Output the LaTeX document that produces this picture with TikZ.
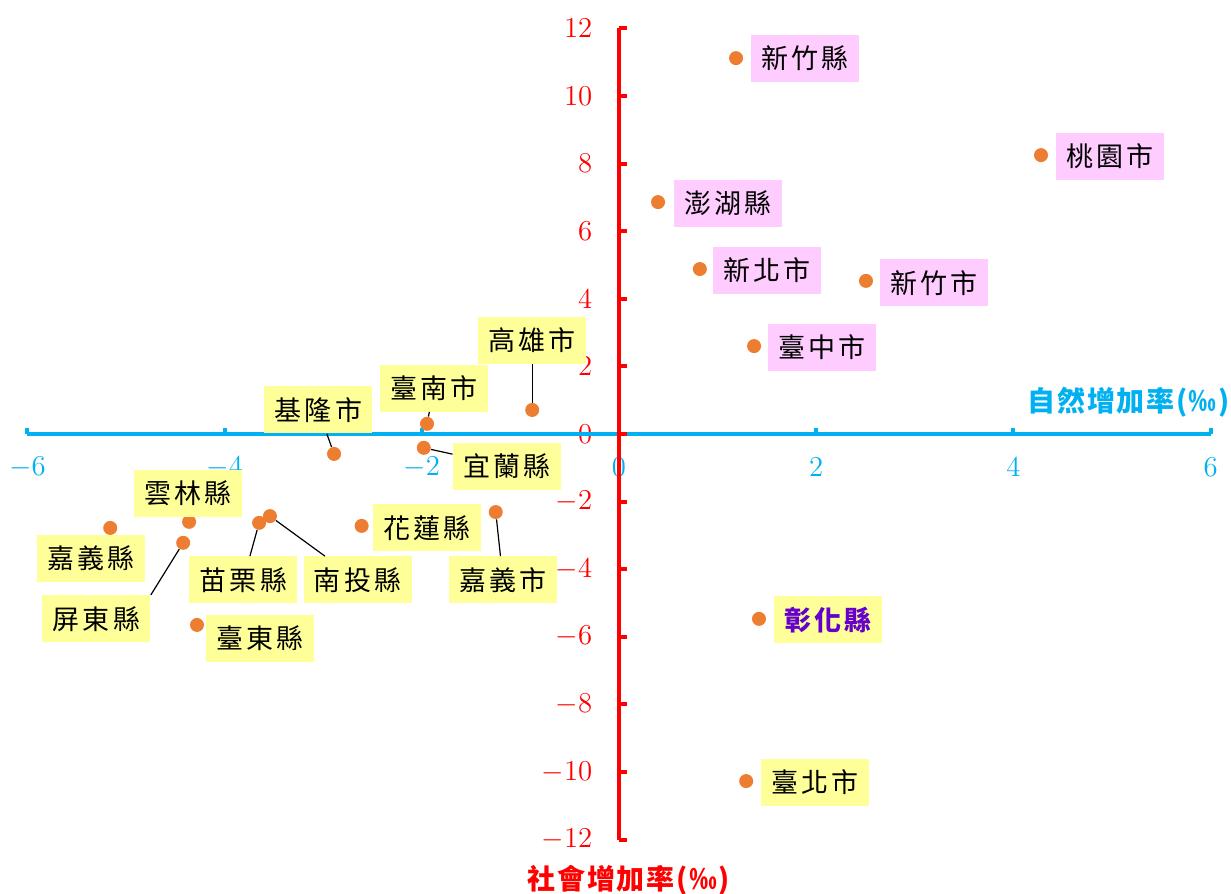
\documentclass[tikz,border=0pt]{standalone}
\usepackage{fontspec}
\usepackage{tikz}
\newfontfamily\cjk[LetterSpace=12]{Noto Sans CJK TC}
\newfontfamily\cjktitle[LetterSpace=6]{Noto Sans CJK TC}
\tikzset{>=latex}
\definecolor{excelorange}{HTML}{ED7D31}
\definecolor{excelred}{HTML}{FF0000}
\definecolor{excelblue}{HTML}{00B0F0}
\definecolor{tagyellow}{HTML}{FFFF99}
\definecolor{tagpink}{HTML}{FFCCFF}
\definecolor{tagpurple}{HTML}{6600CC}
\tikzset{
	pt/.style={circle,fill=excelorange,inner sep=0pt,minimum size=7pt},
	tag/.style={fill=#1,inner sep=0pt,minimum width=54pt,minimum height=23.5pt,font=\cjk\fontsize{13.5}{15}\selectfont},
	tag/.default=tagyellow,
	lead/.style={line width=0.6pt,black}
}

\begin{document}
\begin{tikzpicture}[x=49.3pt,y=16.9pt]
	\useasboundingbox (-6.278,-13.61) rectangle (6.207,12.84);

	\foreach \x in {-6,-4,...,6} \node[text=excelblue,font=\fontsize{15}{17}\selectfont] at (\x,-0.98) {$\x$};
	\foreach \y in {-12,-10,...,12} \node[text=excelred,font=\fontsize{15}{17}\selectfont,anchor=east] at (-0.2,\y) {$\y$};

	\coordinate (xmin) at (-6,0);
	\coordinate (xmax) at (6,0);
	\coordinate (ymin) at (0,-12);
	\coordinate (ymax) at (0,12);

	\draw [line width=2pt,color=excelblue] (xmin) -- (xmax);
	\foreach \x in {-6,-4,...,6} \draw [line width=2pt,color=excelblue] (\x,0) -- ++(0,3pt);

	\draw [line width=2pt,color=excelred] (ymin) -- (ymax);
	\foreach \y in {-12,-10,...,12} \draw [line width=2pt,color=excelred] (0,\y) -- ++(4pt,0);

	\node[text=excelblue,font=\cjktitle\bfseries\fontsize{14}{16}\selectfont] (xtitle) at (5.17,0.947) {自然增加率(‰)};
	\node[text=excelred,font=\cjktitle\bfseries\fontsize{14}{16}\selectfont] (ytitle) at (0.10,-13.2) {社會增加率(‰)};

	\node[pt] (hsinchuco) at (1.187,11.12) {};
	\node[pt] (taoyuan) at (4.28,8.25) {};
	\node[pt] (penghu) at (0.396,6.86) {};
	\node[pt] (newtaipei) at (0.82,4.88) {};
	\node[pt] (hsinchuci) at (2.505,4.53) {};
	\node[pt] (taichung) at (1.37,2.60) {};
	\node[pt] (changhua) at (1.42,-5.47) {};
	\node[pt] (taipei) at (1.29,-10.27) {};
	\node[pt] (kaohsiung) at (-0.88,0.71) {};
	\node[pt] (tainan) at (-1.947,0.30) {};
	\node[pt] (keelung) at (-2.89,-0.59) {};
	\node[pt] (yilan) at (-1.98,-0.41) {};
	\node[pt] (yunlin) at (-4.36,-2.60) {};
	\node[pt] (chiayico) at (-5.16,-2.78) {};
	\node[pt] (pingtung) at (-4.42,-3.22) {};
	\node[pt] (miaoli) at (-3.65,-2.63) {};
	\node[pt] (nantou) at (-3.54,-2.43) {};
	\node[pt] (hualien) at (-2.61,-2.72) {};
	\node[pt] (chiayici) at (-1.25,-2.31) {};
	\node[pt] (taitung) at (-4.28,-5.65) {};

	\node[tag=tagpink] (hsinchucolbl) at (1.886,11.12) {新竹縣};
	\node[tag=tagpink] (taoyuanlbl) at (4.98,8.22) {桃園市};
	\node[tag=tagpink] (penghulbl) at (1.105,6.83) {澎湖縣};
	\node[tag=tagpink] (newtaipeilbl) at (1.50,4.85) {新北市};
	\node[tag=tagpink] (hsinchucilbl) at (3.195,4.47) {新竹市};
	\node[tag=tagpink] (taichunglbl) at (2.06,2.57) {臺中市};
	\node[tag,text=tagpurple,font=\cjk\bfseries\fontsize{13.5}{15}\selectfont] (changhualbl) at (2.12,-5.50) {彰化縣};
	\node[tag] (taipeilbl) at (1.99,-10.30) {臺北市};
	\node[tag] (kaohsiunglbl) at (-0.88,2.78) {高雄市};
	\node[tag] (tainanlbl) at (-1.876,1.36) {臺南市};
	\node[tag] (keelunglbl) at (-3.05,0.71) {基隆市};
	\node[tag] (yilanlbl) at (-1.136,-0.95) {宜蘭縣};
	\node[tag] (yunlinlbl) at (-4.37,-1.75) {雲林縣};
	\node[tag] (chiayicolbl) at (-5.355,-3.67) {嘉義縣};
	\node[tag] (pingtunglbl) at (-5.30,-5.47) {屏東縣};
	\node[tag] (miaolilbl) at (-3.81,-4.32) {苗栗縣};
	\node[tag] (nantoulbl) at (-2.65,-4.32) {南投縣};
	\node[tag] (hualienlbl) at (-1.947,-2.78) {花蓮縣};
	\node[tag] (chiayicilbl) at (-1.176,-4.32) {嘉義市};
	\node[tag] (taitunglbl) at (-3.64,-6.04) {臺東縣};

	\draw [lead] (kaohsiunglbl) -- (kaohsiung);
	\draw [lead] (tainanlbl) -- (tainan);
	\draw [lead] (keelunglbl) -- (keelung);
	\draw [lead] (yilanlbl) -- (yilan);
	\draw [lead] (pingtunglbl.north east) -- (pingtung);
	\draw [lead] (miaolilbl) -- (miaoli);
	\draw [lead] (nantoulbl) -- (nantou);
	\draw [lead] (chiayicilbl) -- (chiayici);
\end{tikzpicture}
\end{document}
